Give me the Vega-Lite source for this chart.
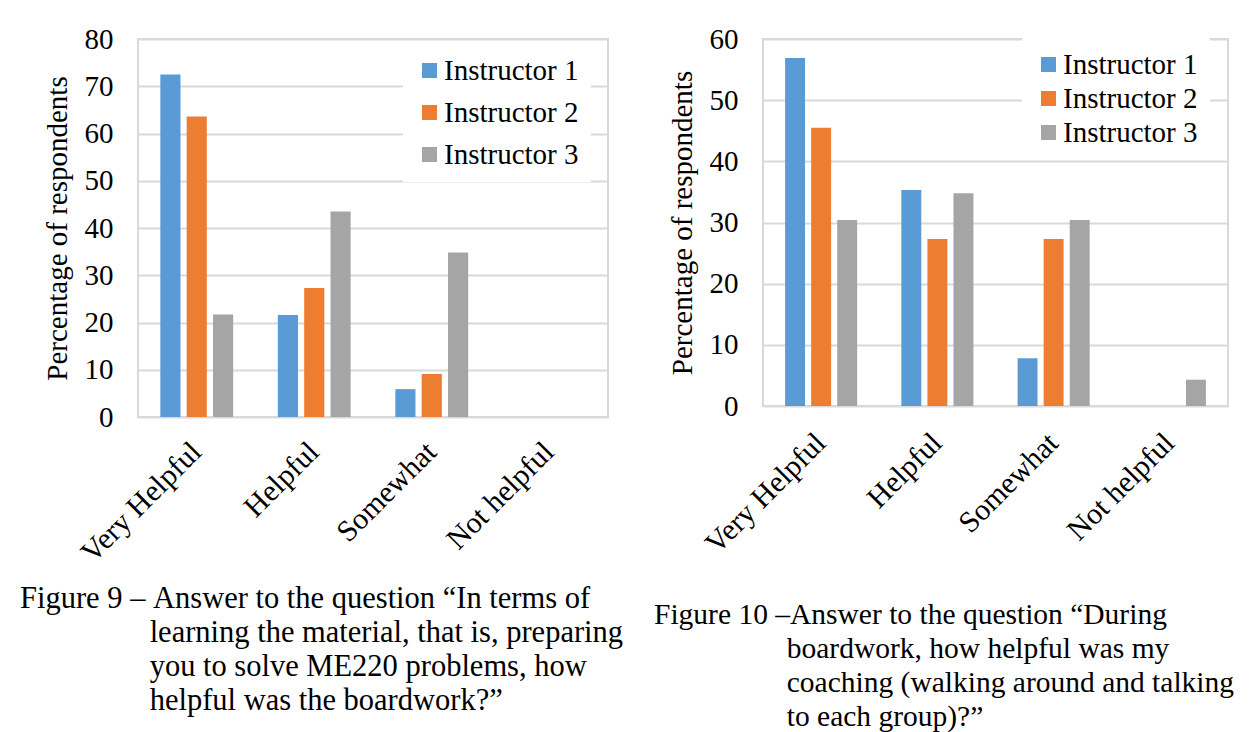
{
  "$schema": "https://vega.github.io/schema/vega-lite/v6.json",
  "background": "white",
  "padding": {"left": 20, "top": 24, "right": 5, "bottom": 0},
  "datasets": {
    "fig9": [
      {"category": "Very Helpful", "instructor": "Instructor 1", "value": 72.5},
      {"category": "Very Helpful", "instructor": "Instructor 2", "value": 63.6},
      {"category": "Very Helpful", "instructor": "Instructor 3", "value": 21.7},
      {"category": "Helpful", "instructor": "Instructor 1", "value": 21.6},
      {"category": "Helpful", "instructor": "Instructor 2", "value": 27.3},
      {"category": "Helpful", "instructor": "Instructor 3", "value": 43.5},
      {"category": "Somewhat", "instructor": "Instructor 1", "value": 5.9},
      {"category": "Somewhat", "instructor": "Instructor 2", "value": 9.1},
      {"category": "Somewhat", "instructor": "Instructor 3", "value": 34.8},
      {"category": "Not helpful", "instructor": "Instructor 1", "value": 0},
      {"category": "Not helpful", "instructor": "Instructor 2", "value": 0},
      {"category": "Not helpful", "instructor": "Instructor 3", "value": 0}
    ],
    "fig10": [
      {"category": "Very Helpful", "instructor": "Instructor 1", "value": 56.9},
      {"category": "Very Helpful", "instructor": "Instructor 2", "value": 45.5},
      {"category": "Very Helpful", "instructor": "Instructor 3", "value": 30.4},
      {"category": "Helpful", "instructor": "Instructor 1", "value": 35.3},
      {"category": "Helpful", "instructor": "Instructor 2", "value": 27.3},
      {"category": "Helpful", "instructor": "Instructor 3", "value": 34.8},
      {"category": "Somewhat", "instructor": "Instructor 1", "value": 7.8},
      {"category": "Somewhat", "instructor": "Instructor 2", "value": 27.3},
      {"category": "Somewhat", "instructor": "Instructor 3", "value": 30.4},
      {"category": "Not helpful", "instructor": "Instructor 1", "value": 0},
      {"category": "Not helpful", "instructor": "Instructor 2", "value": 0},
      {"category": "Not helpful", "instructor": "Instructor 3", "value": 4.3}
    ]
  },
  "config": {
    "font": "Liberation Serif",
    "view": {"stroke": "#D9D9D9", "strokeWidth": 2},
    "axis": {
      "labelFont": "Liberation Serif", "titleFont": "Liberation Serif",
      "labelColor": "black", "titleColor": "black",
      "labelFontSize": 29, "titleFontSize": 29, "titleFontWeight": "normal",
      "gridColor": "#D9D9D9", "gridWidth": 2,
      "domain": false, "ticks": false, "tickSize": 0
    },
    "legend": {
      "labelFont": "Liberation Serif", "labelColor": "black", "labelFontSize": 29,
      "symbolType": "square", "symbolSize": 225, "symbolStrokeWidth": 0,
      "labelOffset": 0, "fillColor": "white", "padding": 12
    },
    "title": {"font": "Liberation Serif", "fontSize": 29.5, "fontWeight": "normal", "color": "black", "lineHeight": 34}
  },
  "resolve": {
    "scale": {"x": "independent", "y": "independent", "xOffset": "independent", "color": "independent"},
    "legend": {"color": "independent"}
  },
  "spacing": 30,
  "hconcat": [
    {
      "title": {
        "text": [
          "Figure 9 –\u00a0Answer to the question “In terms of",
          "\u200b\u00a0\u00a0\u00a0\u00a0\u00a0\u00a0\u00a0\u00a0\u00a0\u00a0\u00a0\u00a0\u00a0\u00a0\u00a0\u00a0\u00a0learning the material, that is, preparing",
          "\u200b\u00a0\u00a0\u00a0\u00a0\u00a0\u00a0\u00a0\u00a0\u00a0\u00a0\u00a0\u00a0\u00a0\u00a0\u00a0\u00a0\u00a0you to solve ME220 problems, how",
          "\u200b\u00a0\u00a0\u00a0\u00a0\u00a0\u00a0\u00a0\u00a0\u00a0\u00a0\u00a0\u00a0\u00a0\u00a0\u00a0\u00a0\u00a0helpful was the boardwork?”"
        ],
        "fontSize": 30.5,
        "orient": "bottom", "anchor": "start", "frame": "bounds", "dx": -22, "offset": 15
      },
      "vconcat": [
        {
          "width": 470,
          "height": 378,
          "data": {"name": "fig9"},
          "mark": {"type": "bar"},
          "encoding": {
            "x": {
              "field": "category", "type": "nominal",
              "sort": ["Very Helpful", "Helpful", "Somewhat", "Not helpful"],
              "scale": {"paddingInner": 0.38, "paddingOuter": 0.19},
              "axis": {"title": null, "labelAngle": -45, "labelAlign": "right", "labelBaseline": "middle", "labelPadding": 30, "labelFontSize": 30, "grid": false}
            },
            "xOffset": {"field": "instructor", "type": "nominal", "scale": {"paddingInner": 0.235, "paddingOuter": 0}},
            "y": {
              "field": "value", "type": "quantitative",
              "scale": {"domain": [0, 80], "nice": false},
              "axis": {"title": "Percentage of respondents", "values": [0, 10, 20, 30, 40, 50, 60, 70, 80], "labelPadding": 25, "titlePadding": 12}
            },
            "color": {
              "field": "instructor", "type": "nominal",
              "scale": {"domain": ["Instructor 1", "Instructor 2", "Instructor 3"], "range": ["#5B9BD5", "#ED7D31", "#A5A5A5"]},
              "legend": {"orient": "none", "legendX": 265, "legendY": 5, "title": null, "rowPadding": 12, "labelFont": "Liberation Serif"}
            }
          }
        }
      ]
    },
    {
      "title": {
        "text": [
          "Figure 10 –Answer to the question “During",
          "\u200b\u00a0\u00a0\u00a0\u00a0\u00a0\u00a0\u00a0\u00a0\u00a0\u00a0\u00a0\u00a0\u00a0\u00a0\u00a0\u00a0\u00a0\u00a0boardwork, how helpful was my",
          "\u200b\u00a0\u00a0\u00a0\u00a0\u00a0\u00a0\u00a0\u00a0\u00a0\u00a0\u00a0\u00a0\u00a0\u00a0\u00a0\u00a0\u00a0\u00a0coaching (walking around and talking",
          "\u200b\u00a0\u00a0\u00a0\u00a0\u00a0\u00a0\u00a0\u00a0\u00a0\u00a0\u00a0\u00a0\u00a0\u00a0\u00a0\u00a0\u00a0\u00a0to each group)?”"
        ],
        "orient": "bottom", "anchor": "start", "frame": "bounds", "dx": -13, "offset": 41
      },
      "vconcat": [
        {
          "width": 465,
          "height": 367,
          "data": {"name": "fig10"},
          "mark": {"type": "bar"},
          "encoding": {
            "x": {
              "field": "category", "type": "nominal",
              "sort": ["Very Helpful", "Helpful", "Somewhat", "Not helpful"],
              "scale": {"paddingInner": 0.38, "paddingOuter": 0.19},
              "axis": {"title": null, "labelAngle": -45, "labelAlign": "right", "labelBaseline": "middle", "labelPadding": 32, "labelFontSize": 30, "grid": false}
            },
            "xOffset": {"field": "instructor", "type": "nominal", "scale": {"paddingInner": 0.235, "paddingOuter": 0}},
            "y": {
              "field": "value", "type": "quantitative",
              "scale": {"domain": [0, 60], "nice": false},
              "axis": {"title": "Percentage of respondents", "values": [0, 10, 20, 30, 40, 50, 60], "labelPadding": 25, "titlePadding": 12}
            },
            "color": {
              "field": "instructor", "type": "nominal",
              "scale": {"domain": ["Instructor 1", "Instructor 2", "Instructor 3"], "range": ["#5B9BD5", "#ED7D31", "#A5A5A5"]},
              "legend": {"orient": "none", "legendX": 259, "legendY": -1, "title": null, "rowPadding": 4, "labelFont": "Liberation Serif"}
            }
          }
        }
      ]
    }
  ]
}
